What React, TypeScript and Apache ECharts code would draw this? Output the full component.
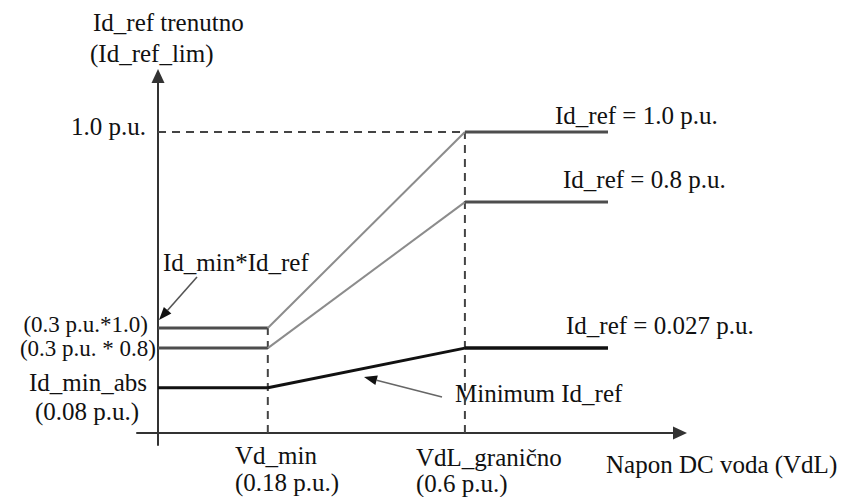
import React, { useEffect, useRef } from "react";
import * as echarts from "echarts";

// Schematic (not to scale) positions.
// x: 0 = vertical axis, 1 = end of the curves; breakpoints: start, Vd_min, VdL_granično, end
const xBreaks = [0, 0.244, 0.682, 1.0];
// y: 1.0 = level of "1.0 p.u."
const curveRef10 = [0.349, 0.349, 1.0, 1.0]; // Id_ref = 1.0 p.u.
const curveRef08 = [0.282, 0.282, 0.767, 0.767]; // Id_ref = 0.8 p.u.
const curveMin = [0.15, 0.15, 0.282, 0.282]; // Minimum Id_ref (0.027 p.u.)
const refLevel = 1.0;

const xAxisRange = [-0.0467, 1.16];
const yAxisRange = [-0.0399, 1.186];

const FAMILY = "'Liberation Serif', 'Times New Roman', serif";
const FONT = "25px " + FAMILY;
const FONT_SMALL = "23px " + FAMILY;

type Pt = [number, number];

function seg(ys: number[], i: number): Pt[] {
  return [
    [xBreaks[i], ys[i]],
    [xBreaks[i + 1], ys[i + 1]],
  ];
}

function lineSeries(name: string, data: Pt[], color: string, width: number, type: any = "solid") {
  return {
    name,
    type: "line",
    data,
    showSymbol: false,
    symbol: "none",
    silent: true,
    lineStyle: { color, width, type, cap: "butt" },
    z: 3,
  };
}

function text(t: string, x: number, y: number, align: string = "left", font: string = FONT) {
  return {
    type: "text",
    x,
    y,
    silent: true,
    style: { text: t, font, fill: "#111", align, verticalAlign: "middle" },
  };
}

function arrow(x1: number, y1: number, x2: number, y2: number, color: string) {
  const dx = x2 - x1;
  const dy = y2 - y1;
  const len = Math.sqrt(dx * dx + dy * dy);
  const ux = dx / len;
  const uy = dy / len;
  const L = 13;
  const W = 5;
  const bx = x2 - ux * L;
  const by = y2 - uy * L;
  return [
    {
      type: "line",
      silent: true,
      shape: { x1, y1, x2: bx, y2: by },
      style: { stroke: color, lineWidth: 1.6 },
    },
    {
      type: "polygon",
      silent: true,
      shape: {
        points: [
          [x2, y2],
          [bx - uy * W, by + ux * W],
          [bx + uy * W, by - ux * W],
        ],
      },
      style: { fill: "#111" },
    },
  ];
}

export default function App() {
  const ref = useRef<HTMLDivElement>(null);
  useEffect(() => {
    if (!ref.current) return;
    const chart = echarts.init(ref.current, null, { renderer: "svg" });
    const flatColor = "#4d4d4d";
    const rampColor = "#8c8c8c";
    const minColor = "#111";
    const dash = [8, 6];
    const series: any[] = [
      // dashed guides
      lineSeries("guide-1.0", [[0, refLevel], [xBreaks[2], refLevel]], "#444", 2, dash),
      lineSeries("guide-vdmin", [[xBreaks[1], 0], [xBreaks[1], curveRef10[1]]], "#444", 2, dash),
      lineSeries("guide-vdl", [[xBreaks[2], 0], [xBreaks[2], refLevel]], "#444", 2, dash),
      // Id_ref = 1.0
      lineSeries("r10a", seg(curveRef10, 0), flatColor, 3),
      lineSeries("r10b", seg(curveRef10, 1), rampColor, 2),
      lineSeries("r10c", seg(curveRef10, 2), flatColor, 3),
      // Id_ref = 0.8
      lineSeries("r08a", seg(curveRef08, 0), flatColor, 3),
      lineSeries("r08b", seg(curveRef08, 1), rampColor, 2),
      lineSeries("r08c", seg(curveRef08, 2), flatColor, 3),
      // minimum
      lineSeries("mina", seg(curveMin, 0), minColor, 3),
      lineSeries("minb", seg(curveMin, 1), minColor, 3),
      lineSeries("minc", seg(curveMin, 2), minColor, 3.5),
    ];

    const graphics: any[] = [
      text("Id_ref trenutno", 93, 22),
      text("(Id_ref_lim)", 90, 53),
      text("1.0 p.u.", 146, 126, "right"),
      text("Id_ref = 1.0 p.u.", 555, 115),
      text("Id_ref = 0.8 p.u.", 563, 179),
      text("Id_ref = 0.027 p.u.", 566, 325),
      text("Id_min*Id_ref", 163, 262),
      text("(0.3 p.u.*1.0)", 148, 324, "right", FONT_SMALL),
      text("(0.3 p.u. * 0.8)", 156, 348, "right", FONT_SMALL),
      text("Id_min_abs", 147, 382, "right"),
      text("(0.08 p.u.)", 35, 411),
      text("Minimum Id_ref", 455, 393),
      text("Vd_min", 235, 455),
      text("(0.18 p.u.)", 235, 482),
      text("VdL_granično", 416, 457),
      text("(0.6 p.u.)", 416, 483),
      text("Napon DC voda (VdL)", 606, 464),
      ...arrow(197, 277, 159, 320, "#555"),
      ...arrow(442, 397, 364, 377, "#666"),
    ];

    const axisLine = () => ({
      show: true,
      onZero: true,
      symbol: ["none", "triangle"],
      symbolSize: [13, 14],
      lineStyle: { color: "#333", width: 2 },
    });

    chart.setOption({
      animation: false,
      backgroundColor: "#fff",
      grid: { left: 137, right: 167, top: 76, bottom: 52, containLabel: false, outerBoundsMode: "none" },
      xAxis: {
        type: "value",
        min: xAxisRange[0],
        max: xAxisRange[1],
        axisLine: axisLine(),
        axisTick: { show: false },
        axisLabel: { show: false },
        splitLine: { show: false },
      },
      yAxis: {
        type: "value",
        min: yAxisRange[0],
        max: yAxisRange[1],
        axisLine: axisLine(),
        axisTick: { show: false },
        axisLabel: { show: false },
        splitLine: { show: false },
      },
      series,
      graphic: graphics,
    });
    return () => chart.dispose();
  }, []);
  return (
    <div
      ref={ref}
      style={{ position: "absolute", left: 0, top: 0, width: 847, height: 497, background: "#fff" }}
    />
  );
}
